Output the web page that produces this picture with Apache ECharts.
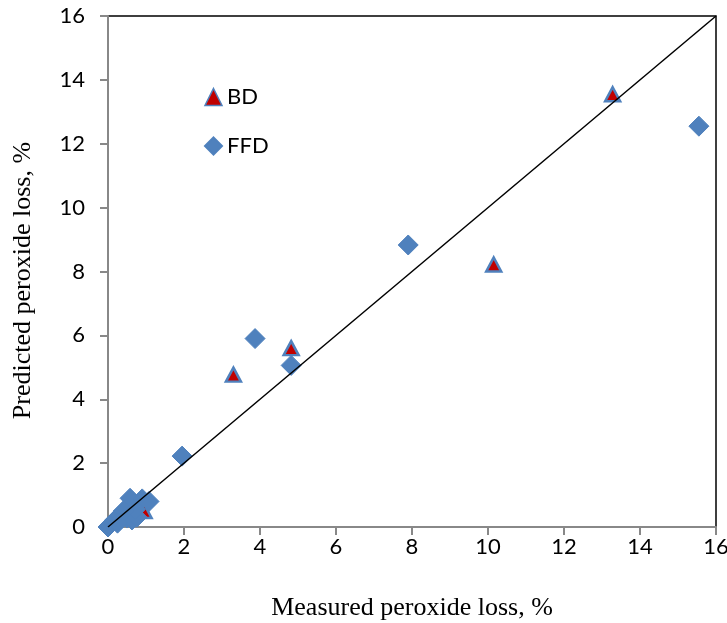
<!DOCTYPE html>
<html><head><meta charset="utf-8">
<script src="https://cdn.jsdelivr.net/npm/echarts@6/dist/echarts.min.js"></script>
<style>html,body{margin:0;padding:0;background:#fff}#c{width:727px;height:623px}</style>
</head><body><div id="c"></div>
<script>
var ffdX = [15.55, 7.9, 3.87, 4.82, 1.95, 0.0, 0.05, 0.18, 0.32, 0.5, 0.63, 0.76, 0.58, 0.9, 1.08, 0.72, 0.4, 0.25];
var ffdY = [12.55, 8.83, 5.9, 5.06, 2.22, 0.0, 0.06, 0.22, 0.37, 0.28, 0.22, 0.31, 0.9, 0.88, 0.8, 0.55, 0.5, 0.12];
var bdX = [13.28, 10.15, 3.3, 4.82, 0.95];
var bdY = [13.55, 8.22, 4.77, 5.6, 0.5];
var lineX = [0, 16];
var lineY = [0, 16];

function pairs(xs, ys){ return xs.map(function(v,i){ return [v, ys[i]]; }); }

var chart = echarts.init(document.getElementById('c'));
var tickFont = {fontFamily: 'Lato, "Open Sans", sans-serif', fontSize: 22, color: '#000'};
chart.setOption({
  animation: false,
  grid: {left: 108, right: 11, top: 16, bottom: 96, containLabel: false, outerBoundsMode: 'none',
         show: true, borderColor: '#000', borderWidth: 1.5, backgroundColor: '#fff'},
  legend: {
    orient: 'vertical', left: 199, top: 81, itemGap: 27, itemWidth: 17, itemHeight: 17,
    textStyle: {fontFamily: 'Lato, "Open Sans", sans-serif', fontSize: 22, color: '#000'},
    data: [
      {name: 'BD', icon: 'triangle', itemStyle: {borderWidth: 1.5}},
      {name: 'FFD', icon: 'diamond'}
    ]
  },
  xAxis: {
    type: 'value', min: 0, max: 16, interval: 2,
    name: 'Measured peroxide loss, %', nameLocation: 'middle', nameGap: 68,
    nameTextStyle: {fontFamily: '"Liberation Serif", serif', fontSize: 26, color: '#000'},
    axisLine: {show: true, onZero: false, lineStyle: {color: '#888', width: 2}},
    axisTick: {show: true, inside: false, length: 8, lineStyle: {color: '#888', width: 2}},
    axisLabel: Object.assign({margin: 9}, tickFont),
    splitLine: {show: false}
  },
  yAxis: {
    type: 'value', min: 0, max: 16, interval: 2,
    name: 'Predicted peroxide loss, %', nameLocation: 'middle', nameGap: 72,
    nameTextStyle: {fontFamily: '"Liberation Serif", serif', fontSize: 26, color: '#000', padding: [0, 18, 0, 0]},
    axisLine: {show: true, onZero: false, lineStyle: {color: '#888', width: 2}},
    axisTick: {show: true, inside: false, length: 8, lineStyle: {color: '#888', width: 2}},
    axisLabel: Object.assign({margin: 23}, tickFont),
    splitLine: {show: false}
  },
  series: [
    {name: 'BD', type: 'scatter', symbol: 'triangle', symbolSize: [15, 14], z: 2,
     itemStyle: {color: '#C00000', borderColor: '#4F81BD', borderWidth: 2.5, opacity: 1},
     data: pairs(bdX, bdY)},
    {name: 'FFD', type: 'scatter', symbol: 'diamond', symbolSize: 20, z: 3,
     itemStyle: {color: '#4F81BD', borderColor: '#4F81BD', borderWidth: 1, opacity: 1},
     data: pairs(ffdX, ffdY)},
    {name: 'line', type: 'line', symbol: 'none', z: 4, silent: true,
     lineStyle: {color: '#000', width: 1.5},
     data: pairs(lineX, lineY)}
  ]
});
</script></body></html>
